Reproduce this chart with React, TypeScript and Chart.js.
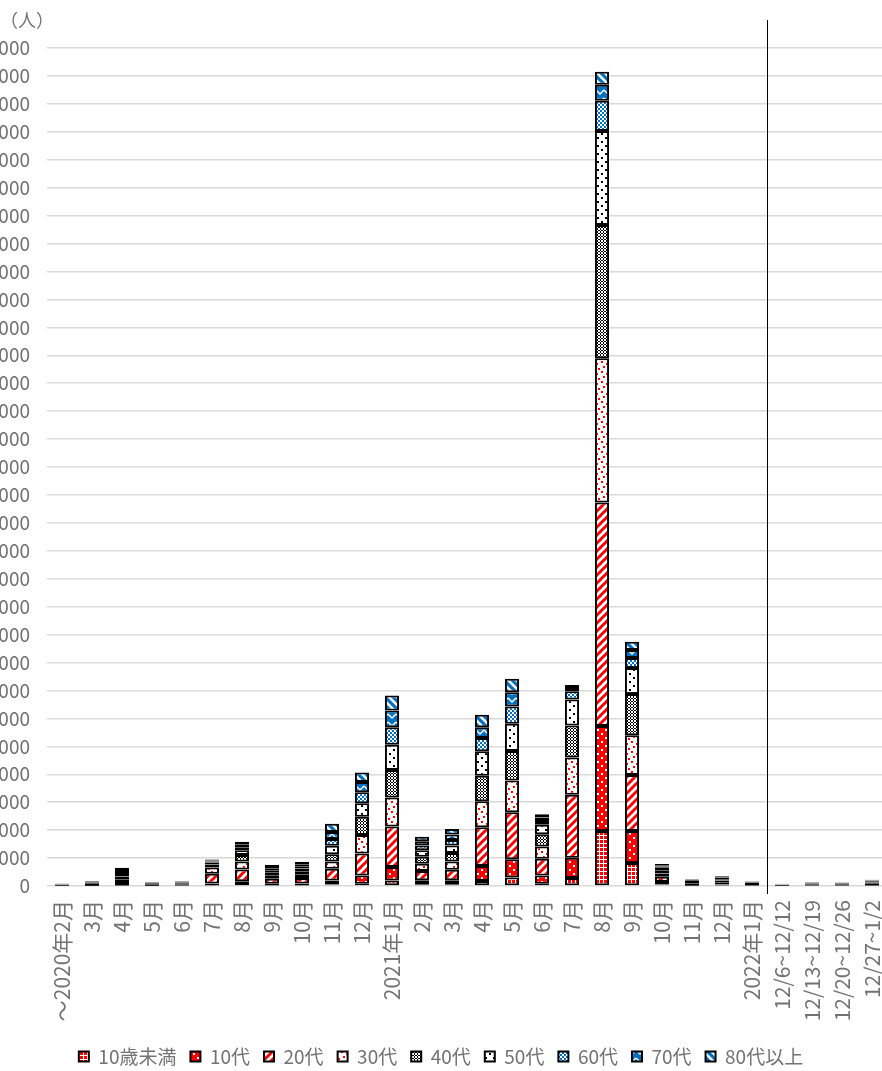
import React, { useEffect, useRef } from 'react';
import { Chart, registerables } from 'chart.js';
Chart.register(...registerables);

const categories = [
  '～2020年2月', '3月', '4月', '5月', '6月', '7月', '8月', '9月', '10月', '11月', '12月',
  '2021年1月', '2月', '3月', '4月', '5月', '6月', '7月', '8月', '9月', '10月', '11月', '12月',
  '2022年1月', '12/6~12/12', '12/13~12/19', '12/20~12/26', '12/27~1/2',
];

const seriesNames = ['10歳未満', '10代', '20代', '30代', '40代', '50代', '60代', '70代', '80代以上'];

const under10 = [1, 3, 10, 3, 5, 20, 40, 20, 20, 50, 80, 200, 60, 60, 180, 300, 80, 290, 1970, 820, 50, 10, 15, 8, 3, 5, 5, 8];
const teens = [2, 7, 20, 7, 10, 70, 130, 60, 70, 150, 300, 480, 150, 150, 540, 660, 300, 720, 3760, 1150, 90, 30, 40, 20, 8, 12, 12, 20];
const twenties = [10, 30, 110, 30, 50, 350, 420, 180, 200, 420, 780, 1450, 330, 370, 1380, 1680, 600, 2260, 8000, 2000, 190, 60, 80, 45, 20, 32, 30, 55];
const thirties = [15, 30, 100, 25, 35, 220, 290, 110, 130, 260, 670, 1040, 260, 300, 930, 1140, 430, 1330, 5160, 1430, 120, 40, 60, 30, 14, 22, 24, 40];
const forties = [15, 30, 100, 20, 25, 110, 230, 100, 110, 260, 650, 980, 250, 300, 920, 1050, 440, 1150, 4770, 1470, 110, 35, 50, 25, 11, 18, 18, 32];
const fifties = [15, 25, 90, 20, 20, 70, 170, 90, 100, 300, 480, 910, 230, 270, 870, 980, 340, 930, 3370, 930, 90, 30, 40, 20, 9, 15, 15, 25];
const sixties = [12, 20, 70, 12, 10, 40, 110, 60, 80, 240, 400, 620, 170, 200, 480, 620, 140, 290, 1080, 360, 50, 15, 20, 10, 5, 8, 9, 14];
const seventies = [10, 15, 70, 10, 10, 30, 90, 60, 70, 250, 360, 600, 150, 190, 380, 510, 120, 120, 570, 290, 40, 15, 20, 10, 5, 8, 8, 12];
const eighties = [10, 20, 80, 13, 15, 40, 100, 70, 80, 300, 340, 540, 160, 200, 450, 480, 120, 110, 470, 290, 50, 15, 25, 12, 5, 10, 9, 14];

const seriesValues = [under10, teens, twenties, thirties, forties, fifties, sixties, seventies, eighties];

const yMax = 30000;
const yStep = 1000;

const RED = '#FF0000';
const BLUE = '#0070C0';
const TEXT = '#737373';
const FONT = '"Noto Sans CJK JP", "Noto Sans", sans-serif';

function makePattern(size: number, draw: (ctx: CanvasRenderingContext2D) => void) {
  const c = document.createElement('canvas');
  c.width = size;
  c.height = size;
  const ctx = c.getContext('2d')!;
  draw(ctx);
  return ctx.createPattern(c, 'repeat')!;
}

function buildPatterns() {
  const p0 = makePattern(4, (ctx) => {
    ctx.fillStyle = RED; ctx.fillRect(0, 0, 4, 4);
    ctx.fillStyle = '#fff'; ctx.fillRect(3, 0, 1, 4); ctx.fillRect(0, 3, 4, 1);
  });
  const p1 = makePattern(8, (ctx) => {
    ctx.fillStyle = RED; ctx.fillRect(0, 0, 8, 8);
    ctx.fillStyle = '#fff'; ctx.fillRect(1, 1, 2, 2); ctx.fillRect(5, 5, 2, 2);
  });
  const p2 = makePattern(8, (ctx) => {
    ctx.fillStyle = '#fff'; ctx.fillRect(0, 0, 8, 8);
    ctx.strokeStyle = RED; ctx.lineWidth = 3;
    ctx.beginPath();
    ctx.moveTo(-1, 9); ctx.lineTo(9, -1);
    ctx.moveTo(-5, 5); ctx.lineTo(5, -5);
    ctx.moveTo(3, 13); ctx.lineTo(13, 3);
    ctx.stroke();
  });
  const p3 = makePattern(10, (ctx) => {
    ctx.fillStyle = '#fff'; ctx.fillRect(0, 0, 10, 10);
    ctx.fillStyle = RED;
    ctx.fillRect(1, 1, 2, 2); ctx.fillRect(6, 3, 2, 2); ctx.fillRect(3, 6, 2, 2); ctx.fillRect(8, 8, 2, 2);
  });
  const p4 = makePattern(3, (ctx) => {
    ctx.fillStyle = '#fff'; ctx.fillRect(0, 0, 3, 3);
    ctx.fillStyle = '#000';
    ctx.fillRect(2, 0, 1, 2); ctx.fillRect(0, 2, 2, 1);
  });
  const p5 = makePattern(8, (ctx) => {
    ctx.fillStyle = '#fff'; ctx.fillRect(0, 0, 8, 8);
    ctx.fillStyle = '#000'; ctx.fillRect(1, 1, 2, 2); ctx.fillRect(5, 5, 2, 2);
  });
  const p6 = makePattern(4, (ctx) => {
    ctx.fillStyle = BLUE; ctx.fillRect(0, 0, 4, 4);
    ctx.fillStyle = '#fff'; ctx.fillRect(0, 0, 2, 2); ctx.fillRect(2, 2, 2, 2);
  });
  const p7 = makePattern(8, (ctx) => {
    ctx.fillStyle = BLUE; ctx.fillRect(0, 0, 8, 8);
    ctx.strokeStyle = '#fff'; ctx.lineWidth = 1.5;
    ctx.beginPath();
    ctx.moveTo(0, 2); ctx.lineTo(4, 6); ctx.lineTo(8, 2);
    ctx.stroke();
  });
  const p8 = makePattern(8, (ctx) => {
    ctx.fillStyle = BLUE; ctx.fillRect(0, 0, 8, 8);
    ctx.strokeStyle = '#fff'; ctx.lineWidth = 2.5;
    ctx.beginPath();
    ctx.moveTo(-1, -1); ctx.lineTo(9, 9);
    ctx.moveTo(3, -5); ctx.lineTo(13, 5);
    ctx.moveTo(-5, 3); ctx.lineTo(5, 13);
    ctx.stroke();
  });
  return [p0, p1, p2, p3, p4, p5, p6, p7, p8];
}

const overlayPlugin = {
  id: 'overlay',
  afterDraw(chart: any) {
    const { ctx, chartArea, scales } = chart;
    ctx.save();
    ctx.fillStyle = TEXT;
    ctx.font = `18px ${FONT}`;
    ctx.textBaseline = 'middle';
    ctx.textAlign = 'left';
    ctx.fillText('（人）', 20, 20);
    const x = scales.x;
    const sepX = Math.round((x.getPixelForValue(23) + x.getPixelForValue(24)) / 2) + 0.5;
    ctx.strokeStyle = '#000';
    ctx.lineWidth = 1;
    ctx.beginPath();
    ctx.moveTo(sepX, 20);
    ctx.lineTo(sepX, chartArea.bottom + 8);
    ctx.stroke();
    ctx.restore();
  },
};

function ChartView() {
  const ref = useRef<HTMLCanvasElement | null>(null);
  useEffect(() => {
    if (!ref.current) return;
    const patterns = buildPatterns();
    const chart = new Chart(ref.current, {
      type: 'bar',
      data: {
        labels: categories,
        datasets: seriesNames.map((name, i) => ({
          label: name,
          data: seriesValues[i],
          backgroundColor: patterns[i],
          borderColor: '#000',
          borderWidth: 2,
          borderSkipped: false,
          barPercentage: 0.47,
          categoryPercentage: 1,
        })),
      },
      options: {
        animation: false,
        responsive: true,
        maintainAspectRatio: false,
        layout: { padding: { top: 48, right: 15, bottom: 0, left: 15 } },
        font: { family: FONT },
        plugins: {
          legend: {
            position: 'bottom',
            labels: {
              color: TEXT,
              font: { size: 19, family: FONT },
              boxWidth: 10,
              boxHeight: 10,
              padding: 14,
            },
          },
          tooltip: { enabled: false },
        },
        scales: {
          x: {
            stacked: true,
            grid: { display: false, drawTicks: false },
            border: { display: false },
            ticks: {
              autoSkip: false,
              maxRotation: 90,
              minRotation: 90,
              padding: 14,
              color: TEXT,
              font: { size: 21, family: FONT },
            },
            afterFit: (s: any) => { s.height = 147; s.paddingLeft = 0; s.paddingRight = 0; },
          },
          y: {
            stacked: true,
            min: 0,
            max: yMax,
            ticks: {
              stepSize: yStep,
              padding: 17,
              color: TEXT,
              font: { size: 19, family: FONT },
              callback: (v: any) => Number(v).toLocaleString('en-US'),
            },
            grid: { color: '#d9d9d9', lineWidth: 1.5, drawTicks: false },
            border: { display: false },
            afterFit: (s: any) => { s.width = 52; s.paddingTop = 0; s.paddingBottom = 0; },
          },
        },
      } as any,
      plugins: [overlayPlugin],
    });
    return () => chart.destroy();
  }, []);
  return <canvas ref={ref} />;
}

export default function App() {
  return (
    <div style={{ position: 'fixed', left: 0, top: 0, width: 882, height: 1071, overflow: 'hidden', background: '#fff' }}>
      <div style={{ position: 'absolute', left: -20, top: 0, width: 922, height: 1076 }}>
        <ChartView />
      </div>
    </div>
  );
}
